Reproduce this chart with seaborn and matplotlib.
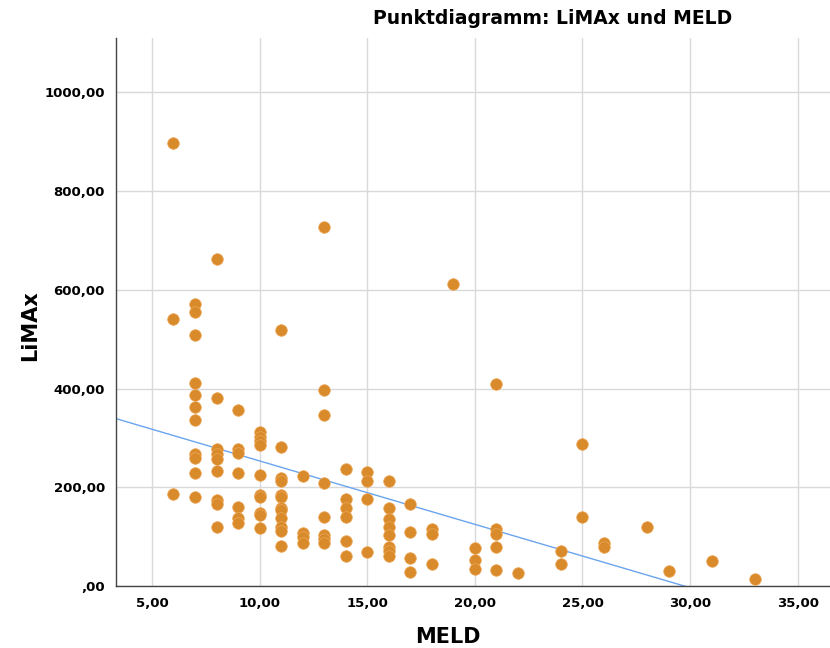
import numpy as np
import pandas as pd
import matplotlib
matplotlib.use("Agg")
import matplotlib.pyplot as plt
from matplotlib.ticker import FuncFormatter
import seaborn as sns

meld = ([6]*3 + [7]*11 + [8]*9 + [9]*7 + [10]*10 + [11]*12 + [12]*4 + [13]*8 +
        [14]*6 + [15]*4 + [16]*8 + [17]*4 + [18]*3 + [19] + [20]*3 + [21]*5 +
        [22] + [24]*2 + [25]*2 + [26]*2 + [28] + [29] + [31] + [33])
limax = [897, 540, 186,
         571, 554, 509, 411, 387, 363, 337, 267, 260, 229, 181,
         662, 380, 277, 267, 258, 233, 175, 167, 120,
         356, 277, 269, 228, 161, 137, 128,
         312, 302, 294, 285, 225, 184, 180, 148, 144, 117,
         518, 281, 219, 212, 184, 181, 157, 154, 137, 120, 112, 81,
         223, 107, 100, 88,
         727, 398, 346, 208, 140, 103, 95, 88,
         236, 176, 159, 139, 91, 61,
         231, 213, 176, 69,
         213, 157, 135, 119, 103, 80, 71, 61,
         167, 110, 56, 29,
         115, 105, 45,
         611,
         76, 53, 34,
         410, 115, 105, 80, 32,
         27,
         71, 45,
         287, 140,
         88, 80,
         119,
         30,
         51,
         14]
x_ticks = [5, 10, 15, 20, 25, 30, 35]
y_ticks = [0, 200, 400, 600, 800, 1000]
title = "Punktdiagramm: LiMAx und MELD"

df = pd.DataFrame({"MELD": meld, "LiMAx": limax})

sns.set_style("white")
plt.rcParams["text.color"] = "black"
plt.rcParams["xtick.color"] = "black"
plt.rcParams["ytick.color"] = "black"
fig = plt.figure(figsize=(8.3, 6.48), dpi=100)
ax = fig.add_axes([116/830, 1 - 586/648, 1 - 116/830, (586 - 38)/648])

ax.set_xlim(3.33, 36.5)
ax.set_ylim(0, 1110)

sns.scatterplot(data=df, x="MELD", y="LiMAx", ax=ax, color="#d98b2b",
                edgecolor="#eca85a", linewidth=0.5, s=70, zorder=3)
sns.regplot(data=df, x="MELD", y="LiMAx", ax=ax, scatter=False, ci=None,
            truncate=False, line_kws=dict(color="#6aa5ee", linewidth=1.0, zorder=2))

ax.set_xlim(3.33, 36.5)
ax.set_ylim(0, 1110)
ax.set_xticks(x_ticks)
ax.set_yticks(y_ticks)

def fmt(v, pos):
    s = f"{v:.2f}".replace(".", ",")
    if s.startswith("0,"):
        s = s[1:]
    return s

ax.xaxis.set_major_formatter(FuncFormatter(fmt))
ax.yaxis.set_major_formatter(FuncFormatter(fmt))
ax.grid(True, color="#d9d9d9", linewidth=1.0)
ax.set_axisbelow(True)
for s in ["top", "right"]:
    ax.spines[s].set_visible(False)
for s in ["left", "bottom"]:
    ax.spines[s].set_color("#444444")
    ax.spines[s].set_linewidth(1.0)
ax.tick_params(axis="both", length=0, labelsize=9.5, pad=8, colors="black")
for lab in ax.get_xticklabels() + ax.get_yticklabels():
    lab.set_fontweight("bold")
ax.set_xlabel("")
ax.set_ylabel("")

fig.text(448/830, 1 - 637/648, "MELD", ha="center", va="center",
         fontsize=15, fontweight="bold", color="black")
fig.text(30/830, 1 - 326/648, "LiMAx", ha="center", va="center",
         rotation=90, fontsize=15, fontweight="bold", color="black")
fig.text(553/830, 1 - 18/648, title, ha="center", va="center",
         fontsize=13.5, fontweight="bold", color="black")

fig.savefig("out.png", dpi=100)
